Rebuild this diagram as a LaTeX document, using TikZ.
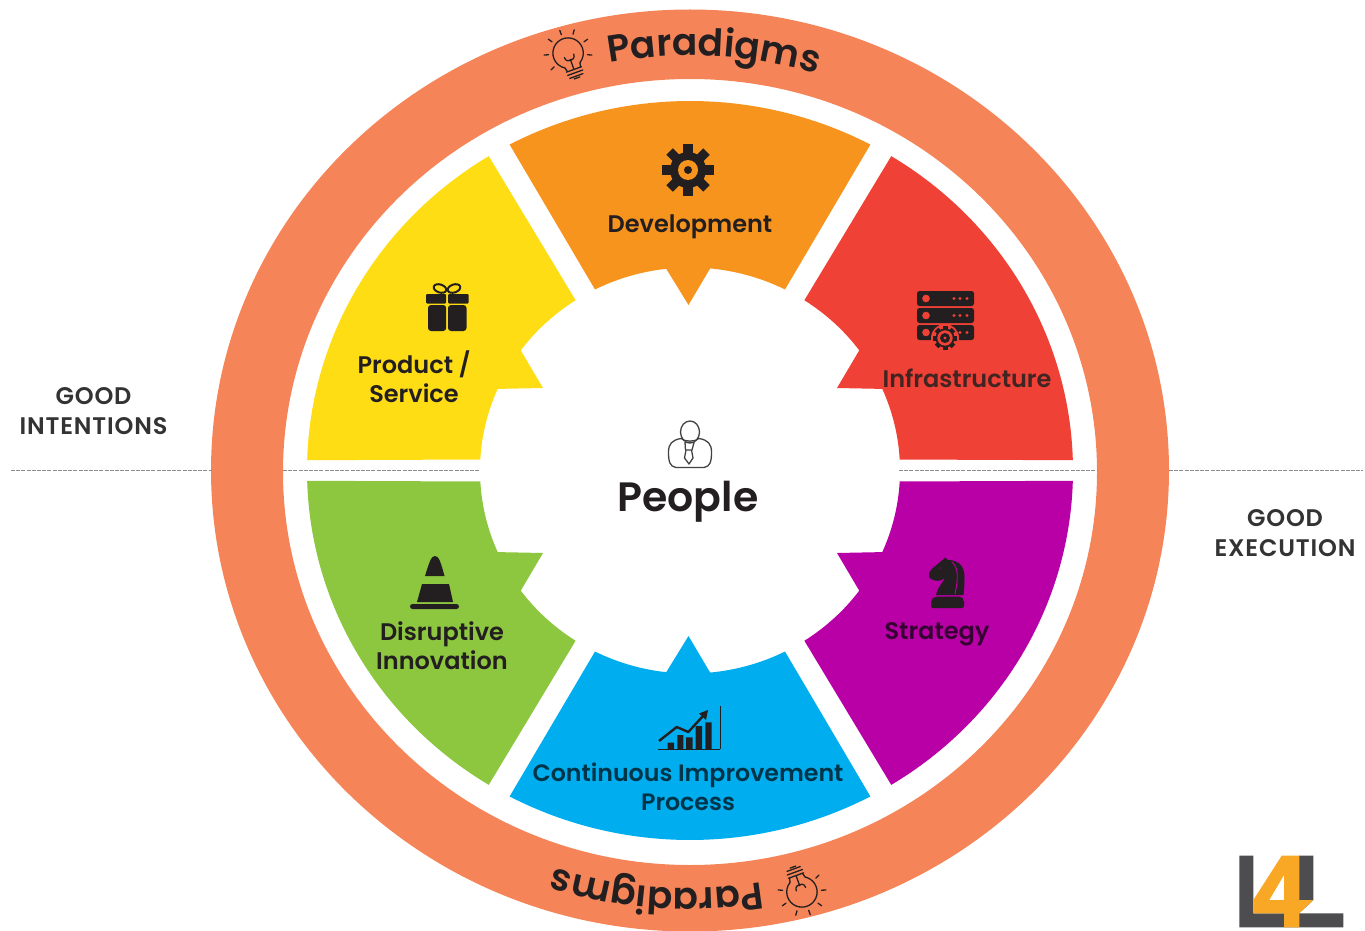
\documentclass[tikz,border=0pt]{standalone}
\usepackage{fontspec}
\setmainfont{Poppins}
\newfontfamily\pop{Poppins SemiBold}
\newfontfamily\popm{Poppins SemiBold}[LetterSpace=3.5]
\usetikzlibrary{decorations.text}
\definecolor{ink}{HTML}{231F20}
\definecolor{ringc}{HTML}{F58559}
\definecolor{devc}{HTML}{F7941E}
\definecolor{infc}{HTML}{EF4136}
\definecolor{strc}{HTML}{B800A6}
\definecolor{conc}{HTML}{00AEEF}
\definecolor{disc}{HTML}{8DC63F}
\definecolor{proc}{HTML}{FFDD15}
\definecolor{logod}{HTML}{4D4D4F}
\definecolor{logoo}{HTML}{F9A825}
\newcommand\oarc[2]{-- ({383*cos(#1)},{369.5*sin(#1)}) arc[start angle=#1,end angle=#2,x radius=383,y radius=369.5]}
\newcommand\iarc[2]{-- ({210*cos(#1)},{203*sin(#1)}) arc[start angle=#1,end angle=#2,x radius=210,y radius=203]}
\newcommand\sideshape{(0,0) ++({383*cos(58.3)},{369.5*sin(58.3)}) \oarc{58.3}{1.6} \iarc{3.1}{23.7} -- (147,82.5) \iarc{36.3}{57} -- cycle}
\newcommand\midshape{({383*cos(118.1)},{369.5*sin(118.1)}) \oarc{118.1}{61.9} \iarc{63.1}{84.5} -- (-1.5,165.5) \iarc{96.5}{116.9} -- cycle}
\tikzset{
  x=1pt,y=1pt,
  lab/.style={text=#1,align=center,inner sep=0pt,font=\pop\fontsize{24}{29}\selectfont},
  side/.style={text=#1,align=center,inner sep=0pt,font=\popm\fontsize{24}{30}\selectfont},
  dashline/.style={draw=black!45,line width=0.7pt,dash pattern=on 4pt off 1.2pt},
  bulbline/.style={draw=ink,line width=1.3pt,line cap=round,line join=round},
  bulb/.pic={
    \draw[bulbline] (-8,-13) arc[start angle=238,end angle=-58,radius=15.2];
    \draw[bulbline] (-8,-13) -- (-7,-17) (8,-13) -- (7,-17);
    \draw[bulbline] (-8,-17.5) -- (8,-17.5) (-8,-21) -- (8,-21) (-7,-24.5) -- (7,-24.5);
    \draw[bulbline] (-3,-26.5) -- (3,-26.5);
    \draw[bulbline] (0,-17) -- (0,-7) (-5,-3) .. controls (-5,-8) and (-1,-8) .. (0,-7) .. controls (1,-8) and (5,-8) .. (5,-3);
    \foreach \a in {-25,15,55,90,125,165,205}
      \draw[bulbline] (\a:19.5) -- (\a:24);
  },
  bigcog/.pic={
    \foreach \a in {0,45,...,315}
      \fill[ink,rotate=\a] (-4.6,0) rectangle (4.6,26);
    \fill[ink] (0,0) circle[radius=18];
    \fill[devc] (0,0) circle[radius=10];
    \fill[ink] (0,0) circle[radius=4];
  },
  smallcog/.pic={
    \fill[infc] (0,0) circle[radius=14];
    \foreach \a in {0,45,...,315}
      \fill[ink,rotate=\a] (-2.5,0) rectangle (2.5,12);
    \fill[ink] (0,0) circle[radius=9.5];
    \fill[infc] (0,0) circle[radius=7.7];
    \fill[ink] (0,0) circle[radius=5];
    \fill[infc] (0,0) circle[radius=1.7];
  }
}
\begin{document}
\begin{tikzpicture}
\useasboundingbox (0,0) rectangle (1365,-931);
% guide lines
\coordinate (a1) at (11,-470.5); \coordinate (a2) at (212,-470.5);
\coordinate (b1) at (283,-470.5); \coordinate (b2) at (479,-470.5);
\coordinate (c1) at (899,-470.5); \coordinate (c2) at (1097,-470.5);
\coordinate (d1) at (1169,-470.5); \coordinate (d2) at (1363,-470.5);
% ring
\fill[ringc,even odd rule] (690,-470.5) ellipse[x radius=479,y radius=461]
   (690,-472) ellipse[x radius=407,y radius=393];
\draw[dashline] (a1) -- (a2); \draw[dashline] (b1) -- (b2);
\draw[dashline] (c1) -- (c2); \draw[dashline] (d1) -- (d2);
% segments
\begin{scope}[shift={(690,-470.5)}]
  \fill[infc] \sideshape;
  \begin{scope}[yscale=-1]\fill[strc] \sideshape;\end{scope}
  \begin{scope}[xscale=-1]\fill[proc] \sideshape;\end{scope}
  \begin{scope}[xscale=-1,yscale=-1]\fill[disc] \sideshape;\end{scope}
  \fill[devc] \midshape;
  \begin{scope}[yscale=-1]\fill[conc] \midshape;\end{scope}
\end{scope}
% curved titles
\begin{scope}[shift={(690,-470.5)}]
  \path[decorate,decoration={text along path,text align=center,
     text={|\pop\fontsize{37.5}{38}\selectfont\color{ink}|Paradigms}}]
     ({432*cos(116.8)},{415*sin(116.8)}) arc[start angle=116.8,end angle=56.8,x radius=432,y radius=415];
  \path[decorate,decoration={text along path,text align=center,
     text={|\pop\fontsize{37.5}{38}\selectfont\color{ink}|Paradigms}}]
     ({432*cos(295.6)},{418*sin(295.6)}) arc[start angle=295.6,end angle=235.6,x radius=432,y radius=418];
\end{scope}
\pic[rotate=20] at (568,-53) {bulb};
\pic[rotate=200] at (802,-892) {bulb};
% gear
\pic at (688,-170) {bigcog};
% server
\foreach \yy in {-291,-308,-325}{
  \fill[ink,rounded corners=2.5pt] (917,\yy) rectangle (974,\yy-15);
  \fill[infc] (926,\yy-7.5) circle[radius=3.8];
  \foreach \xx in {954,960,967} \fill[infc] (\xx,\yy-7.5) circle[radius=1.6];
}
\pic at (945,-338) {smallcog};
% gift
\draw[ink,line width=2pt,rotate around={-18:(440,-288.5)}] (440,-288.5) ellipse[x radius=6.5,y radius=4];
\draw[ink,line width=2pt,rotate around={18:(454,-288.5)}] (454,-288.5) ellipse[x radius=6.5,y radius=4];
\fill[ink,rounded corners=1pt] (426,-294) rectangle (446.2,-303.5);
\fill[ink,rounded corners=1pt] (448,-294) rectangle (468.5,-303.5);
\fill[ink,rounded corners=3pt] (428,-305) -- (428,-331) -- (446.2,-331) -- (446.2,-305) -- cycle;
\fill[ink,rounded corners=3pt] (448,-305) -- (448,-331) -- (466.5,-331) -- (466.5,-305) -- cycle;
% cone
\fill[ink] (425,-576) .. controls (429,-563) and (431,-556) .. (435,-556) .. controls (439,-556) and (441,-563) .. (444.5,-576) -- cycle;
\fill[ink] (422,-584) -- (449,-584) -- (453,-602) -- (417,-602) -- cycle;
\fill[ink,rounded corners=2.5pt] (410,-604) rectangle (459,-609);
% chart
\draw[ink,line width=1pt] (658,-749) -- (720,-749) (720,-749) -- (720,-706);
\fill[ink] (667.7,-749) rectangle (674,-742.7) (677.3,-749) rectangle (683.3,-735) (686,-749) rectangle (692.7,-737.3)
           (695.7,-749) rectangle (702,-726) (705.3,-749) rectangle (711.7,-722.3);
\draw[ink,line width=2.4pt,line join=round] (659,-741) -- (676.7,-727) -- (688.3,-732) -- (703,-716);
\fill[ink] (708,-710) -- (706,-720) -- (699,-713.5) -- cycle;
% knight
\fill[ink] (945,-557.5) -- (948,-560) .. controls (960,-560) and (965,-568) .. (964.5,-578)
   .. controls (964.5,-585) and (964,-590) .. (963.5,-595) -- (936,-595)
   .. controls (937,-588) and (942,-584) .. (945,-578) .. controls (940,-582) and (935,-581) .. (932,-579.5)
   .. controls (929,-578) and (928,-576) .. (929,-573) .. controls (931,-568) and (939,-564) .. (945,-557.5) -- cycle;
\draw[strc,line width=0.9pt] (952,-562) .. controls (959,-568) and (958,-580) .. (955,-594);
\fill[strc] (940,-568) circle[radius=0.7];
\fill[ink,rounded corners=2pt] (931,-608) -- (931,-600) -- (935,-596.5) -- (961,-596.5) -- (964,-600) -- (964,-608) -- cycle;
% person
\begin{scope}[draw=ink!85,line width=1.3pt]
  \draw (690,-432) ellipse[x radius=9.5,y radius=11];
  \draw (681,-438.5) .. controls (672,-440) and (668.5,-444) .. (668.5,-452)
     .. controls (668.5,-462) and (670,-466.5) .. (676,-467.5) -- (704,-467.5)
     .. controls (710,-466.5) and (711.5,-462) .. (711.5,-452)
     .. controls (711.5,-444) and (708,-440) .. (699,-438.5);
  \draw (681,-438.5) .. controls (685,-442) and (695,-442) .. (699,-438.5);
  \draw[line join=round] (685,-442.5) -- (694,-442.5) -- (692,-450) -- (685.5,-450) -- cycle;
  \draw[line join=round] (686,-450) -- (684.5,-458) -- (689,-464) -- (693,-458) -- (691.5,-450);
\end{scope}
% logo
\fill[logod] (1239.3,-855.7) -- (1253.3,-855.7) -- (1253.3,-913.3) -- (1343.3,-913.3) -- (1343.3,-927.3) -- (1239.3,-927.3) -- cycle;
\fill[logod] (1299,-855.7) -- (1313.3,-855.7) -- (1313.3,-900) -- (1299,-913.3) -- cycle;
\fill[logoo,even odd rule] (1281.7,-855.7) -- (1299.3,-855.7) -- (1299.3,-900) -- (1313.3,-900) -- (1299.3,-913.3) -- (1299.3,-927.3) -- (1284,-927.3) -- (1284,-913.3) -- (1253.3,-913.3) -- (1253.3,-900) -- cycle
   (1269.3,-900) -- (1284,-875) -- (1284,-900) -- cycle;
% labels
\node[lab=ink] (dev) at (690,-226.5) {Development};
\node[lab=ink!85!infc] (inf) at (967,-378) {Infrastructure};
\node[lab=ink] (pro) at (414,-377) {Product /\\Service};
\node[lab=ink] (dis) at (442,-645.5) {Disruptive\\Innovation};
\node[lab={black!70!strc}] (str) at (937,-634.5) {Strategy};
\node[lab={black!70!conc},font=\pop\fontsize{23.7}{29}\selectfont] (con) at (688,-787) {Continuous Improvement\\Process};
\node[text=ink,inner sep=0pt,font=\pop\fontsize{41}{41}\selectfont] (peo) at (688,-502) {People};
\node[side=black!80] (gi) at (93.5,-411) {GOOD\\INTENTIONS};
\node[side=black!80] (ge) at (1285,-533.5) {GOOD\\EXECUTION};
\end{tikzpicture}
\end{document}
